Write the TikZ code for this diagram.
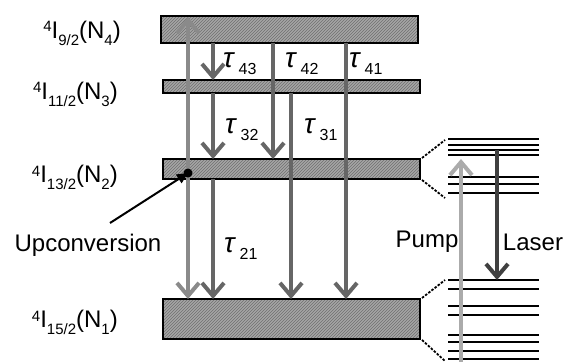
\documentclass[tikz,border=0pt]{standalone}
\usepackage{fontspec}
\setmainfont{Liberation Sans}
\usetikzlibrary{arrows.meta,patterns}
\definecolor{boxfill}{HTML}{A6A6A6}
\definecolor{hatch}{HTML}{707070}
\definecolor{upc}{HTML}{8A8A8A}
\definecolor{dec}{HTML}{666666}
\definecolor{pumpc}{HTML}{ABABAB}
\definecolor{laserc}{HTML}{404040}
\newcommand{\lvl}[2]{\raisebox{6pt}{\fontsize{15}{15}\selectfont 4}I\raisebox{-7pt}{\fontsize{15}{15}\selectfont #1}(N\raisebox{-7pt}{\fontsize{15}{15}\selectfont #2})}
\newcommand{\taulab}[1]{{\fontsize{28}{28}\selectfont\itshape τ}\hspace{5pt}\raisebox{-7pt}{\fontsize{16}{16}\selectfont #1}}
\begin{document}
\begin{tikzpicture}[x=1pt,y=-1pt,
  level/.style={draw=black,line width=1.4pt,preaction={fill=boxfill},pattern=north east lines,pattern color=hatch,inner sep=0pt,outer sep=0pt,anchor=north west},
  lvltext/.style={anchor=base east,inner sep=0pt,font=\fontsize{24}{24}\selectfont},
  taut/.style={anchor=base west,inner sep=0pt},
  decay/.style={draw=dec,line width=4pt,-{Straight Barb[length=13pt,width=22pt,line width=4pt]}},
  upar/.style={draw=upc,line width=4pt,-{Straight Barb[length=13pt,width=22pt,line width=4pt]}},
  fine/.style={draw=black,line width=2pt},
  dots/.style={draw=black,line width=1.8pt,dash pattern=on 2.5pt off 1.5pt},
  word/.style={inner sep=0pt,font=\fontsize{24}{24}\selectfont}
]
\useasboundingbox (0,0) rectangle (564,361);
% levels
\node[level,minimum width=257pt,minimum height=27pt] (n4) at (161,16) {};
\node[level,minimum width=257pt,minimum height=13pt] (n3) at (163,80) {};
\node[level,minimum width=257pt,minimum height=20pt] (n2) at (163,159) {};
\node[level,minimum width=257pt,minimum height=40pt] (n1) at (163,299) {};
% level labels
\node[lvltext] (l4) at (121,38) {\lvl{9/2}{4}};
\node[lvltext] (l3) at (118,99) {\lvl{11/2}{3}};
\node[lvltext] (l2) at (118,182) {\lvl{13/2}{2}};
\node[lvltext] (l1) at (118,327) {\lvl{15/2}{1}};
% upconversion
\coordinate (uc) at (188,173);
\draw[upar] (uc) -- (uc |- 0,17);
\draw[upar] (uc) -- (uc |- n1.north);
\fill[black] (uc) circle (4.5pt);
% decays
\draw[decay] (n4.south -| 213,0) -- (n3.north -| 213,0);
\draw[decay] (n3.south -| 213,0) -- (n2.north -| 213,0);
\draw[decay] (n2.south -| 213,0) -- (n1.north -| 213,0);
\draw[decay] (n4.south -| 273,0) -- (n2.north -| 273,0);
\draw[decay] (n3.south -| 291,0) -- (n1.north -| 291,0);
\draw[decay] (n4.south -| 346,0) -- (n1.north -| 346,0);
% tau labels
\node[taut] (t43) at (223,67) {\taulab{43}};
\node[taut] (t42) at (285,67) {\taulab{42}};
\node[taut] (t41) at (349,67) {\taulab{41}};
\node[taut] (t32) at (225,133) {\taulab{32}};
\node[taut] (t31) at (304,133) {\taulab{31}};
\node[taut] (t21) at (224,252) {\taulab{21}};
% upconversion label & arrow
\node[word] (uword) at (88,245) {Upconversion};
\coordinate (ustart) at (110,223);
\draw[black,line width=2pt,-{Triangle[length=11pt,width=10pt]}] (ustart) -- (uc);
% Stark sublevels
\foreach \yy/\nm in {139/a,145/b,150/c,155/d,177/e,184/f,193/g}{
  \draw[fine] (448,\yy) coordinate (u\nm l) -- (539,\yy) coordinate (u\nm r);
}
\foreach \yy/\nm in {280/a,289/b,306/c,315/d,335/e,342/f,351/g,359/h}{
  \draw[fine] (448,\yy) coordinate (d\nm l) -- (539,\yy) coordinate (d\nm r);
}
\draw[dots] (n2.north east) ++(2,-1) -- (445,140);
\draw[dots] (n2.south east) ++(2,1) -- (445,198);
\draw[dots] (n1.north east) ++(2,-1) -- (445,280);
\draw[dots] (n1.south east) ++(2,1) -- (445,361);
% pump & laser
\coordinate (pb) at (461,365);
\coordinate (pt) at (461,159);
\draw[draw=pumpc,line width=4pt,-{Straight Barb[length=13pt,width=22pt,line width=4pt]}] (pb) -- (pt);
\draw[draw=laserc,line width=4pt,-{Straight Barb[length=13pt,width=22pt,line width=4pt]}] (ucr -| 497,0) -- (dal -| 497,0);
\node[word] (pump) at (427,242) {Pump};
\node[word] (laser) at (533,242) {Laser};
\end{tikzpicture}
\end{document}
